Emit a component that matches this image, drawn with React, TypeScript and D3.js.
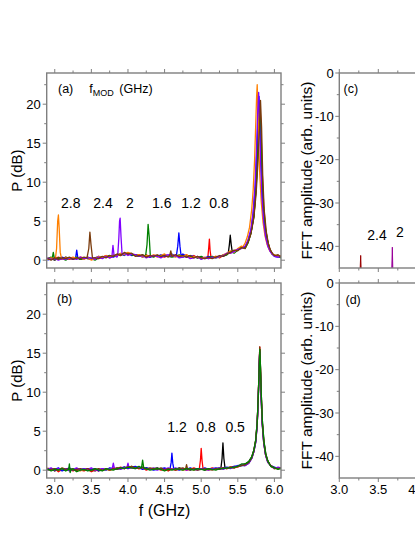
import React from "react";
import * as d3 from "d3";

// ---------- DATA ----------
const FREQ = [2.90,2.95,3.00,3.05,3.10,3.15,3.20,3.25,3.30,3.35,3.40,3.45,3.50,3.55,3.60,3.65,3.70,3.75,3.80,3.85,3.90,3.95,4.00,4.05,4.10,4.15,4.20,4.25,4.30,4.35,4.40,4.45,4.50,4.55,4.60,4.65,4.70,4.75,4.80,4.85,4.90,4.95,5.00,5.05,5.10,5.15,5.20,5.25,5.30,5.35,5.40,5.45,5.50,5.55,5.60,5.65,5.70,5.75,5.80,5.85,5.90,5.95,6.00,6.05,6.09];

// panel (a) baselines
const O_A = [0.1,0.3,0.2,0.4,0.1, 0.3,0.2,0.4,0.2,0.3, 0.1,0.4,0.0,0.2,0.5, 0.3,0.6,0.4,0.7,0.5, 0.9,0.7,1.0,0.8,0.6, 0.7,0.4,0.6,0.5,0.7, 0.4,0.6,0.8,0.5,0.7, 0.4,0.6,0.5,0.7,0.3, 0.5,0.4,0.2,0.4,0.2, 0.3,0.5,0.4,0.7,0.9, 1.2,1.0,1.5,1.8,2.4, 3.5,6.0,12,8.0,3.0, 1.5,1.0,0.7,0.5,0.6];
const BR_A = [0.2,0.0,0.3,0.1,0.3, 0.2,0.4,0.1,0.3,0.2, 0.4,0.2,0.1,0.3,0.2, 0.5,0.3,0.6,0.5,0.8, 0.6,1.0,0.8,0.9,0.5, 0.6,0.7,0.4,0.6,0.5, 0.7,0.5,0.6,0.4,0.6, 0.7,0.5,0.6,0.4,0.6, 0.3,0.5,0.3,0.2,0.4, 0.2,0.4,0.6,0.5,0.8, 1.0,1.3,1.2,1.6,2.0, 3.0,5.0,9.0,14,6.0, 2.0,1.2,0.6,0.7,0.4];
const P_A = [0.3,0.1,0.2,0.0,0.2, 0.1,0.3,0.2,0.1,0.4, 0.2,0.3,0.3,0.1,0.4, 0.2,0.5,0.3,0.6,0.4, 0.7,0.9,0.6,0.8,0.7, 0.5,0.6,0.3,0.5,0.6, 0.5,0.3,0.6,0.7,0.5, 0.6,0.3,0.4,0.5,0.2, 0.3,0.5,0.1,0.3,0.2, 0.4,0.3,0.5,0.6,0.9, 0.9,1.1,1.4,1.5,2.2, 3.2,5.5,11,14,5.0, 2.0,1.1,0.5,0.4,0.5];
const G_A = [0.2,0.4,0.1,0.3,0.2, 0.0,0.3,0.2,0.4,0.1, 0.3,0.2,0.2,0.0,0.3, 0.4,0.4,0.6,0.5,0.7, 0.8,0.7,0.9,0.7,0.6, 0.5,0.7,0.5,0.6,0.4, 0.6,0.4,0.7,0.5,0.4, 0.5,0.7,0.4,0.6,0.5, 0.4,0.3,0.5,0.2,0.3, 0.5,0.3,0.4,0.7,0.7, 1.1,0.9,1.3,1.7,2.0, 3.0,5.0,10,15,7.0, 2.2,1.2,0.6,0.5,0.3];
const BL_A = [0.0,0.2,0.3,0.1,0.4, 0.2,0.3,0.1,0.2,0.3, 0.2,0.4,0.2,0.3,0.5, 0.3,0.4,0.6,0.4,0.6, 0.8,0.6,0.9,0.6,0.7, 0.6,0.4,0.6,0.4,0.5, 0.5,0.7,0.5,0.6,0.8, 0.5,0.6,0.8,0.5,0.6, 0.5,0.3,0.4,0.3,0.5, 0.3,0.4,0.5,0.6,0.8, 1.0,1.2,1.3,1.6,2.1, 3.2,5.5,10,15,6.0, 2.2,1.0,0.5,0.4,0.5];
const R_A = [0.3,0.1,0.2,0.4,0.2, 0.3,0.1,0.3,0.2,0.4, 0.3,0.2,0.1,0.3,0.2, 0.4,0.6,0.3,0.5,0.7, 0.6,0.9,0.7,0.8,0.6, 0.7,0.5,0.7,0.4,0.6, 0.6,0.5,0.4,0.6,0.5, 0.7,0.4,0.5,0.7,0.4, 0.6,0.3,0.4,0.3,0.2, 0.4,0.5,0.3,0.6,0.8, 0.9,1.2,1.4,1.7,2.3, 3.3,5.5,10,15,6.0, 2.0,1.1,0.6,0.5,0.4];
const K_A = [0.2,0.2,0.0,0.3,0.1, 0.4,0.2,0.2,0.3,0.1, 0.2,0.3,0.2,0.2,0.3, 0.4,0.5,0.5,0.6,0.6, 0.7,0.8,0.8,0.7,0.7, 0.6,0.5,0.6,0.5,0.5, 0.5,0.6,0.5,0.5,0.6, 0.5,0.5,0.6,0.4,0.5, 0.4,0.4,0.3,0.3,0.3, 0.4,0.4,0.5,0.5,0.7, 1.0,1.1,1.3,1.6,2.2, 3.2,5.2,10,15,6.0, 2.0,1.1,0.6,0.5,0.5];

// panel (a) peaks: [f (GHz), P (dB)]
const O_A_PK = [
  [[3.01,0.3],[3.025,1.5],[3.04,5.0],[3.05,5.8],[3.06,4.2],[3.075,1.0],[3.09,0.3]],
  [[5.57,1.7],[5.6,2.2],[5.63,3.0],[5.66,4.2],[5.69,6.5],[5.71,9],[5.73,13],[5.745,17.5],[5.757,21],[5.765,22.5],[5.773,20],[5.785,15],[5.8,11],[5.82,7.5],[5.845,4.8],[5.87,3.2],[5.9,2.0],[5.93,1.3],[5.97,0.8]],
];
const BR_A_PK = [
  [[3.44,0.3],[3.465,1.5],[3.48,3.6],[3.495,2.0],[3.515,0.3]],
  [[4.57,0.6],[4.585,1.2],[4.6,0.5]],
  [[5.6,1.5],[5.64,2.3],[5.68,3.4],[5.72,5.5],[5.75,8.5],[5.775,12.5],[5.795,17],[5.81,20.5],[5.825,17],[5.84,11],[5.86,6.5],[5.89,3.6],[5.92,2.0],[5.95,1.2],[5.98,0.8]],
];
const P_A_PK = [
  [[3.78,0.4],[3.795,1.9],[3.81,0.6]],
  [[3.86,0.6],[3.875,2.8],[3.885,5.0],[3.893,5.4],[3.905,3.0],[3.92,0.7]],
  [[5.6,1.8],[5.64,2.6],[5.68,4.0],[5.71,6.2],[5.735,9.5],[5.755,14],[5.772,19],[5.785,21.5],[5.797,18],[5.812,12.5],[5.83,8],[5.855,4.8],[5.88,3.0],[5.91,1.8],[5.95,1.0]],
];
const G_A_PK = [
  [[2.965,0.2],[2.98,1.0],[2.995,0.2]],
  [[4.24,0.5],[4.26,2.0],[4.275,4.6],[4.29,3.0],[4.305,0.6]],
  [[5.6,1.5],[5.64,2.2],[5.68,3.5],[5.72,5.8],[5.75,9.5],[5.775,14.5],[5.79,18],[5.8,20],[5.812,17],[5.83,11],[5.85,7],[5.875,4.2],[5.9,2.8],[5.93,1.6],[5.97,0.8]],
];
const BL_A_PK = [
  [[3.285,0.3],[3.3,1.3],[3.315,0.3]],
  [[4.66,0.5],[4.68,1.8],[4.695,3.5],[4.71,1.8],[4.725,0.6]],
  [[5.6,1.7],[5.64,2.5],[5.68,3.8],[5.71,6],[5.74,9.5],[5.76,14],[5.777,18.5],[5.79,21],[5.802,18],[5.818,12.5],[5.835,8],[5.86,4.8],[5.885,3.0],[5.915,1.8],[5.95,1.0]],
];
const R_A_PK = [
  [[5.09,0.3],[5.103,1.6],[5.112,2.7],[5.122,1.2],[5.135,0.3]],
  [[5.6,1.6],[5.64,2.4],[5.68,3.6],[5.72,5.8],[5.75,9.5],[5.775,14.5],[5.792,18],[5.805,19.5],[5.818,16.5],[5.835,11],[5.855,6.8],[5.88,4.0],[5.905,2.6],[5.935,1.5],[5.97,0.8]],
];
const K_A_PK = [
  [[5.37,0.9],[5.385,2.0],[5.397,3.2],[5.41,2.0],[5.425,1.0]],
  [[5.6,1.6],[5.64,2.3],[5.68,3.5],[5.72,5.6],[5.75,9.2],[5.775,14],[5.79,17.5],[5.8,19],[5.812,16],[5.83,10.5],[5.85,6.5],[5.875,4.0],[5.9,2.6],[5.93,1.5],[5.97,0.8]],
];

// panel (b) baselines
const K_B = [0.1,0.2,-0.1,0.1,0.0, 0.2,0.0,0.1,-0.1,0.1, 0.0,0.2,0.1,-0.1,0.1, 0.0,0.1,0.2,0.1,0.3, 0.2,0.4,0.3,0.5,0.3, 0.4,0.2,0.3,0.1,0.2, 0.3,0.1,0.2,0.0,0.2, 0.1,0.3,0.1,0.2,0.0, 0.2,0.1,0.2,0.0,0.2, 0.1,0.2,0.3,0.2,0.3, 0.4,0.3,0.5,0.6,0.8, 1.2,2.5,8,6,1.5, 0.6,0.4,0.3,0.2,0.3];
const R_B = [0.3,0.0,0.2,-0.2,0.1, 0.0,0.2,-0.1,0.1,0.0, -0.1,0.1,-0.2,0.0,-0.1, 0.1,0.2,0.0,0.3,0.2, 0.4,0.2,0.5,0.3,0.4, 0.2,0.3,0.0,0.2,0.1, 0.2,0.0,0.1,-0.1,0.2, 0.0,0.1,0.2,0.0,0.1, 0.3,0.1,0.0,0.2,0.1, 0.3,0.1,0.2,0.3,0.2, 0.4,0.5,0.4,0.7,0.9, 1.2,2.5,8,6,1.5, 0.5,0.3,0.2,0.3,0.2];
const BL_B = [0.0,0.2,0.1,0.3,-0.1, 0.1,0.3,0.0,0.2,0.1, 0.2,0.0,0.1,0.2,-0.1, 0.2,0.0,0.3,0.2,0.1, 0.3,0.4,0.2,0.4,0.5, 0.3,0.1,0.3,0.2,0.0, 0.1,0.2,0.3,0.1,0.2, 0.2,0.0,0.2,0.1,0.3, 0.1,0.2,0.1,0.3,0.1, 0.2,0.3,0.1,0.3,0.4, 0.3,0.5,0.6,0.6,0.9, 1.2,2.5,8,6,1.5, 0.6,0.3,0.4,0.2,0.3];
const G_B = [0.2,-0.1,0.1,0.0,0.2, -0.1,0.1,0.2,-0.2,0.0, 0.1,-0.1,0.0,0.2,0.0, -0.1,0.2,0.1,0.0,0.2, 0.3,0.2,0.4,0.3,0.2, 0.5,0.2,0.2,0.0,0.1, 0.2,0.1,-0.1,0.1,0.0, 0.2,0.1,0.0,0.2,0.1, 0.0,0.2,0.1,0.0,0.2, 0.1,0.0,0.2,0.2,0.3, 0.3,0.4,0.5,0.8,0.8, 1.2,2.5,8,6,1.5, 0.4,0.2,0.3,0.1,0.2];
const P_B = [0.1,0.3,0.0,0.2,0.1, 0.2,-0.1,0.1,0.3,0.0, 0.2,0.1,0.3,0.0,0.1, 0.2,0.1,0.2,0.4,0.2, 0.1,0.3,0.6,0.3,0.2, 0.3,0.4,0.2,0.1,0.3, 0.0,0.2,0.1,0.3,0.1, 0.3,0.1,0.2,0.0,0.2, 0.1,0.0,0.2,0.1,0.0, 0.2,0.1,0.3,0.1,0.3, 0.2,0.4,0.5,0.7,0.8, 1.2,2.5,8,6,1.5, 0.5,0.3,0.2,0.4,0.3];
const BR_B = [0.0,0.1,0.2,0.0,0.3, 0.1,0.2,0.0,0.1,0.2, 0.0,0.2,-0.1,0.1,0.2, 0.0,0.1,0.0,0.2,0.1, 0.3,0.2,0.4,0.5,0.3, 0.2,0.4,0.1,0.3,0.2, 0.1,0.3,0.0,0.2,0.1, 0.0,0.2,0.3,0.1,0.2, 0.2,0.0,0.1,0.2,0.1, 0.0,0.2,0.1,0.3,0.2, 0.4,0.3,0.5,0.6,0.9, 1.2,2.5,8,6,1.5, 0.6,0.4,0.3,0.2,0.3];
const O_B = [0.2,0.0,0.1,0.2,0.0, 0.1,0.0,0.2,0.1,-0.1, 0.1,0.0,0.2,0.1,0.0, 0.1,0.2,0.0,0.1,0.2, 0.2,0.3,0.2,0.3,0.4, 0.2,0.3,0.1,0.2,0.1, 0.1,0.2,0.0,0.1,0.2, 0.1,0.2,0.0,0.1,0.2, 0.0,0.1,0.2,0.1,0.0, 0.2,0.1,0.2,0.3,0.2, 0.4,0.3,0.5,0.7,0.8, 1.2,2.5,8,6,1.5, 0.5,0.3,0.2,0.2,0.3];

const MAIN_B1 = [[5.6,0.7],[5.65,1.0],[5.69,1.6],[5.72,2.5],[5.745,3.8],[5.765,6],[5.78,9.5],[5.792,13.5],[5.8,15.8],[5.808,13.5],[5.82,9.5],[5.835,6],[5.855,3.6],[5.88,2.0],[5.91,1.1],[5.95,0.6]];
const MAIN_B2 = [[5.6,0.8],[5.65,1.1],[5.69,1.7],[5.72,2.6],[5.745,3.9],[5.765,6.2],[5.78,9.6],[5.793,13.4],[5.801,15.5],[5.81,13.2],[5.822,9.4],[5.837,6.1],[5.857,3.7],[5.882,2.1],[5.91,1.2],[5.95,0.5]];
const MAIN_B3 = [[5.6,0.6],[5.65,0.9],[5.69,1.5],[5.72,2.4],[5.745,3.6],[5.765,5.8],[5.78,9.2],[5.791,13],[5.799,15.2],[5.807,13],[5.819,9.2],[5.834,5.9],[5.854,3.5],[5.88,1.9],[5.91,1.0],[5.95,0.6]];

const K_B_PK = [[[5.27,0.3],[5.285,1.5],[5.297,3.5],[5.31,1.5],[5.325,0.3]], MAIN_B2];
const R_B_PK = [[[4.975,0.2],[4.99,1.3],[5.0,2.8],[5.012,1.2],[5.025,0.2]], MAIN_B1];
const BL_B_PK = [[[4.575,0.2],[4.59,1.0],[4.6,2.2],[4.612,0.9],[4.625,0.2]], MAIN_B3];
const G_B_PK = [[[3.19,0.1],[3.2,0.8],[3.21,-0.3],[3.225,0.1]], [[4.185,0.3],[4.2,1.3],[4.215,0.3]], MAIN_B2];
const P_B_PK = [[[3.785,0.2],[3.8,0.9],[3.815,0.2]], [[3.985,0.3],[4.0,0.9],[4.015,0.3]], MAIN_B3];
const BR_B_PK = [[[4.785,0.1],[4.8,0.7],[4.815,0.1]], MAIN_B1];
const O_B_PK = [MAIN_B3];

// panel (c) FFT peaks
const FFT_C_RED = [[3.266,-46],[3.274,-42.1],[3.281,-46]];
const FFT_C_PURPLE = [[3.672,-46],[3.68,-40.2],[3.687,-46]];

// tick values
const X_MAJOR = [3.0, 3.5, 4.0, 4.5, 5.0, 5.5, 6.0];
const X_MINOR = [3.25, 3.75, 4.25, 4.75, 5.25, 5.75];
const Y_MAJOR = [0, 5, 10, 15, 20];
const Y_MINOR = [2.5, 7.5, 12.5, 17.5, 22.5];
const XR_MAJOR = [3.0, 3.5, 4.0];
const XR_MINOR = [3.25, 3.75];
const YR_MAJOR = [0, -10, -20, -30, -40];
const YR_MINOR = [-5, -15, -25, -35];

// annotations
const LABELS_A = [["2.8", 3.218], ["2.4", 3.659], ["2", 4.028], ["1.6", 4.461], ["1.2", 4.861], ["0.8", 5.243]];
const LABELS_B = [["1.2", 4.67], ["0.8", 5.066], ["0.5", 5.464]];
const LABELS_C = [["2.4", 3.483, -38.5], ["2", 3.778, -37.8]];

const COLORS = {
  black: "#000000", red: "#ff0000", blue: "#0000ff", green: "#008000",
  purple: "#8000ff", brown: "#7a3b0c", orange: "#ff8000",
};

const SERIES_A = [
  { c: COLORS.black, base: K_A, pk: K_A_PK },
  { c: COLORS.red, base: R_A, pk: R_A_PK },
  { c: COLORS.blue, base: BL_A, pk: BL_A_PK },
  { c: COLORS.green, base: G_A, pk: G_A_PK },
  { c: COLORS.orange, base: O_A, pk: O_A_PK },
  { c: COLORS.purple, base: P_A, pk: P_A_PK },
  { c: COLORS.brown, base: BR_A, pk: BR_A_PK },
];
const SERIES_B = [
  { c: COLORS.black, base: K_B, pk: K_B_PK },
  { c: COLORS.red, base: R_B, pk: R_B_PK },
  { c: COLORS.orange, base: O_B, pk: O_B_PK },
  { c: COLORS.blue, base: BL_B, pk: BL_B_PK },
  { c: COLORS.purple, base: P_B, pk: P_B_PK },
  { c: COLORS.brown, base: BR_B, pk: BR_B_PK },
  { c: COLORS.green, base: G_B, pk: G_B_PK },
];

function buildSeries(base: number[], peaks: number[][][]): number[][] {
  const n = Math.min(base.length, FREQ.length);
  let pts: number[][] = [];
  for (let i = 0; i < n; i++) pts.push([FREQ[i], base[i]]);
  for (const pk of peaks) {
    const lo = pk[0][0], hi = pk[pk.length - 1][0];
    pts = pts.filter((p) => p[0] < lo - 1e-9 || p[0] > hi + 1e-9);
    pts = pts.concat(pk);
  }
  pts.sort((a, b) => a[0] - b[0]);
  return pts;
}

// ---------- LAYOUT ----------
const FONT = "'Liberation Sans', Arial, Helvetica, sans-serif";
const GRAY = "#7f7f7f";
const LX0 = 46.7, LX1 = 281;
const RX0 = 339.3, RX1 = 540;
const A_Y0 = 73, A_Y1 = 268;
const B_Y0 = 283, B_Y1 = 478;

const xL = d3.scaleLinear().domain([2.89, 6.09]).range([LX0, LX1]);
const yA = d3.scaleLinear().domain([-1, 24]).range([A_Y1, A_Y0]);
const yB = d3.scaleLinear().domain([-1, 24]).range([B_Y1, B_Y0]);
const xR = d3.scaleLinear().domain([3.0, 4.0]).range([RX0, RX0 + 78]);
const yC = d3.scaleLinear().domain([-45, 0]).range([A_Y1, A_Y0]);
const yD = d3.scaleLinear().domain([-45, 0]).range([B_Y1, B_Y0]);

const MAJ = 4, MIN = 2.5;

function Ticks({ x, y, x0, x1, y0, y1, xMaj, xMin, yMaj, yMin, right }: any) {
  const els: any[] = [];
  let k = 0;
  const add = (x1_: number, y1_: number, x2_: number, y2_: number) =>
    els.push(<line key={k++} x1={x1_} y1={y1_} x2={x2_} y2={y2_} stroke={GRAY} strokeWidth={1} />);
  xMaj.forEach((v: number) => { add(x(v), y0, x(v), y0 - MAJ); add(x(v), y1, x(v), y1 + MAJ); });
  xMin.forEach((v: number) => { add(x(v), y0, x(v), y0 - MIN); add(x(v), y1, x(v), y1 + MIN); });
  yMaj.forEach((v: number) => { add(x0, y(v), x0 - MAJ, y(v)); if (right) add(x1, y(v), x1 + MAJ, y(v)); });
  yMin.forEach((v: number) => { add(x0, y(v), x0 - MIN, y(v)); if (right) add(x1, y(v), x1 + MIN, y(v)); });
  return <g>{els}</g>;
}

const SW = 1.3;

export default function App() {
  const lineA = d3.line<number[]>().x((d) => xL(d[0])).y((d) => yA(d[1]));
  const lineB = d3.line<number[]>().x((d) => xL(d[0])).y((d) => yB(d[1]));
  const lineC = d3.line<number[]>().x((d) => xR(d[0])).y((d) => yC(d[1]));

  return (
    <svg width={415} height={537} style={{ position: "absolute", left: 0, top: 0, background: "#fff" }} fontFamily={FONT}>
      <defs>
        <clipPath id="clipA"><rect x={LX0} y={A_Y0} width={LX1 - LX0} height={A_Y1 - A_Y0} /></clipPath>
        <clipPath id="clipB"><rect x={LX0} y={B_Y0} width={LX1 - LX0} height={B_Y1 - B_Y0} /></clipPath>
        <clipPath id="clipC"><rect x={RX0} y={A_Y0} width={RX1 - RX0} height={A_Y1 - A_Y0} /></clipPath>
      </defs>
      <rect x={0} y={0} width={415} height={537} fill="#fff" />

      {/* panel (a) */}
      <g clipPath="url(#clipA)">
        {SERIES_A.map((s, i) => (
          <path key={i} d={lineA(buildSeries(s.base, s.pk)) || ""} fill="none" stroke={s.c} strokeWidth={SW} strokeLinejoin="round" />
        ))}
      </g>
      <rect x={LX0} y={A_Y0} width={LX1 - LX0} height={A_Y1 - A_Y0} fill="none" stroke={GRAY} strokeWidth={1.4} />
      <Ticks x={xL} y={yA} x0={LX0} x1={LX1} y0={A_Y0} y1={A_Y1} xMaj={X_MAJOR} xMin={X_MINOR} yMaj={Y_MAJOR} yMin={Y_MINOR} right />
      {Y_MAJOR.map((v) => (
        <text key={v} x={LX0 - 6} y={yA(v) + 4.6} fontSize={13} textAnchor="end">{v}</text>
      ))}
      <text transform={`translate(22,${(A_Y0 + A_Y1) / 2}) rotate(-90)`} fontSize={15} textAnchor="middle">P (dB)</text>
      <text x={58} y={93} fontSize={12.5}>(a)</text>
      <text x={89.3} y={93} fontSize={12.5}>f<tspan fontSize={9} dy={3}>MOD</tspan><tspan fontSize={12.5} dy={-3} dx={2}> (GHz)</tspan></text>
      {LABELS_A.map(([t, f]) => (
        <text key={t as string} x={xL(f as number)} y={yA(6.7)} fontSize={14} textAnchor="middle">{t}</text>
      ))}

      {/* panel (b) */}
      <g clipPath="url(#clipB)">
        {SERIES_B.map((s, i) => (
          <path key={i} d={lineB(buildSeries(s.base, s.pk)) || ""} fill="none" stroke={s.c} strokeWidth={SW} strokeLinejoin="round" />
        ))}
      </g>
      <rect x={LX0} y={B_Y0} width={LX1 - LX0} height={B_Y1 - B_Y0} fill="none" stroke={GRAY} strokeWidth={1.4} />
      <Ticks x={xL} y={yB} x0={LX0} x1={LX1} y0={B_Y0} y1={B_Y1} xMaj={X_MAJOR} xMin={X_MINOR} yMaj={Y_MAJOR} yMin={Y_MINOR} right />
      {Y_MAJOR.map((v) => (
        <text key={v} x={LX0 - 6} y={yB(v) + 4.6} fontSize={13} textAnchor="end">{v}</text>
      ))}
      {X_MAJOR.map((v) => (
        <text key={v} x={xL(v)} y={494} fontSize={13} textAnchor="middle">{v.toFixed(1)}</text>
      ))}
      <text transform={`translate(22,${(B_Y0 + B_Y1) / 2}) rotate(-90)`} fontSize={15} textAnchor="middle">P (dB)</text>
      <text x={xL(4.5)} y={516} fontSize={16} textAnchor="middle">f (GHz)</text>
      <text x={57} y={302.5} fontSize={12.5}>(b)</text>
      {LABELS_B.map(([t, f]) => (
        <text key={t as string} x={xL(f as number)} y={yB(4.96)} fontSize={14} textAnchor="middle">{t}</text>
      ))}

      {/* panel (c) */}
      <g clipPath="url(#clipC)">
        <path d={lineC(FFT_C_RED) || ""} fill="#990000" stroke="#990000" strokeWidth={1} />
        <path d={lineC(FFT_C_PURPLE) || ""} fill="#990099" stroke="#990099" strokeWidth={1} />
      </g>
      <rect x={RX0} y={A_Y0} width={RX1 - RX0} height={A_Y1 - A_Y0} fill="none" stroke={GRAY} strokeWidth={1.4} />
      <Ticks x={xR} y={yC} x0={RX0} x1={RX1} y0={A_Y0} y1={A_Y1} xMaj={XR_MAJOR} xMin={XR_MINOR} yMaj={YR_MAJOR} yMin={YR_MINOR} />
      {YR_MAJOR.map((v) => (
        <text key={v} x={RX0 - 5.5} y={yC(v) + 4.6} fontSize={13} textAnchor="end">{v}</text>
      ))}
      <text transform={`translate(312,${(A_Y0 + A_Y1) / 2}) rotate(-90)`} fontSize={15.5} textAnchor="middle">FFT amplitude (arb. units)</text>
      <text x={343.5} y={92.5} fontSize={12.5}>(c)</text>
      {LABELS_C.map(([t, f, v]) => (
        <text key={t as string} x={xR(f as number)} y={yC(v as number)} fontSize={14} textAnchor="middle">{t}</text>
      ))}

      {/* panel (d) */}
      <rect x={RX0} y={B_Y0} width={RX1 - RX0} height={B_Y1 - B_Y0} fill="none" stroke={GRAY} strokeWidth={1.4} />
      <Ticks x={xR} y={yD} x0={RX0} x1={RX1} y0={B_Y0} y1={B_Y1} xMaj={XR_MAJOR} xMin={XR_MINOR} yMaj={YR_MAJOR} yMin={YR_MINOR} />
      {YR_MAJOR.map((v) => (
        <text key={v} x={RX0 - 5.5} y={yD(v) + 4.6} fontSize={13} textAnchor="end">{v}</text>
      ))}
      {XR_MAJOR.map((v) => (
        <text key={v} x={xR(v)} y={494} fontSize={13} textAnchor="middle">{v.toFixed(1)}</text>
      ))}
      <text transform={`translate(312,${(B_Y0 + B_Y1) / 2}) rotate(-90)`} fontSize={15.5} textAnchor="middle">FFT amplitude (arb. units)</text>
      <text x={345.5} y={304} fontSize={12.5}>(d)</text>
    </svg>
  );
}
